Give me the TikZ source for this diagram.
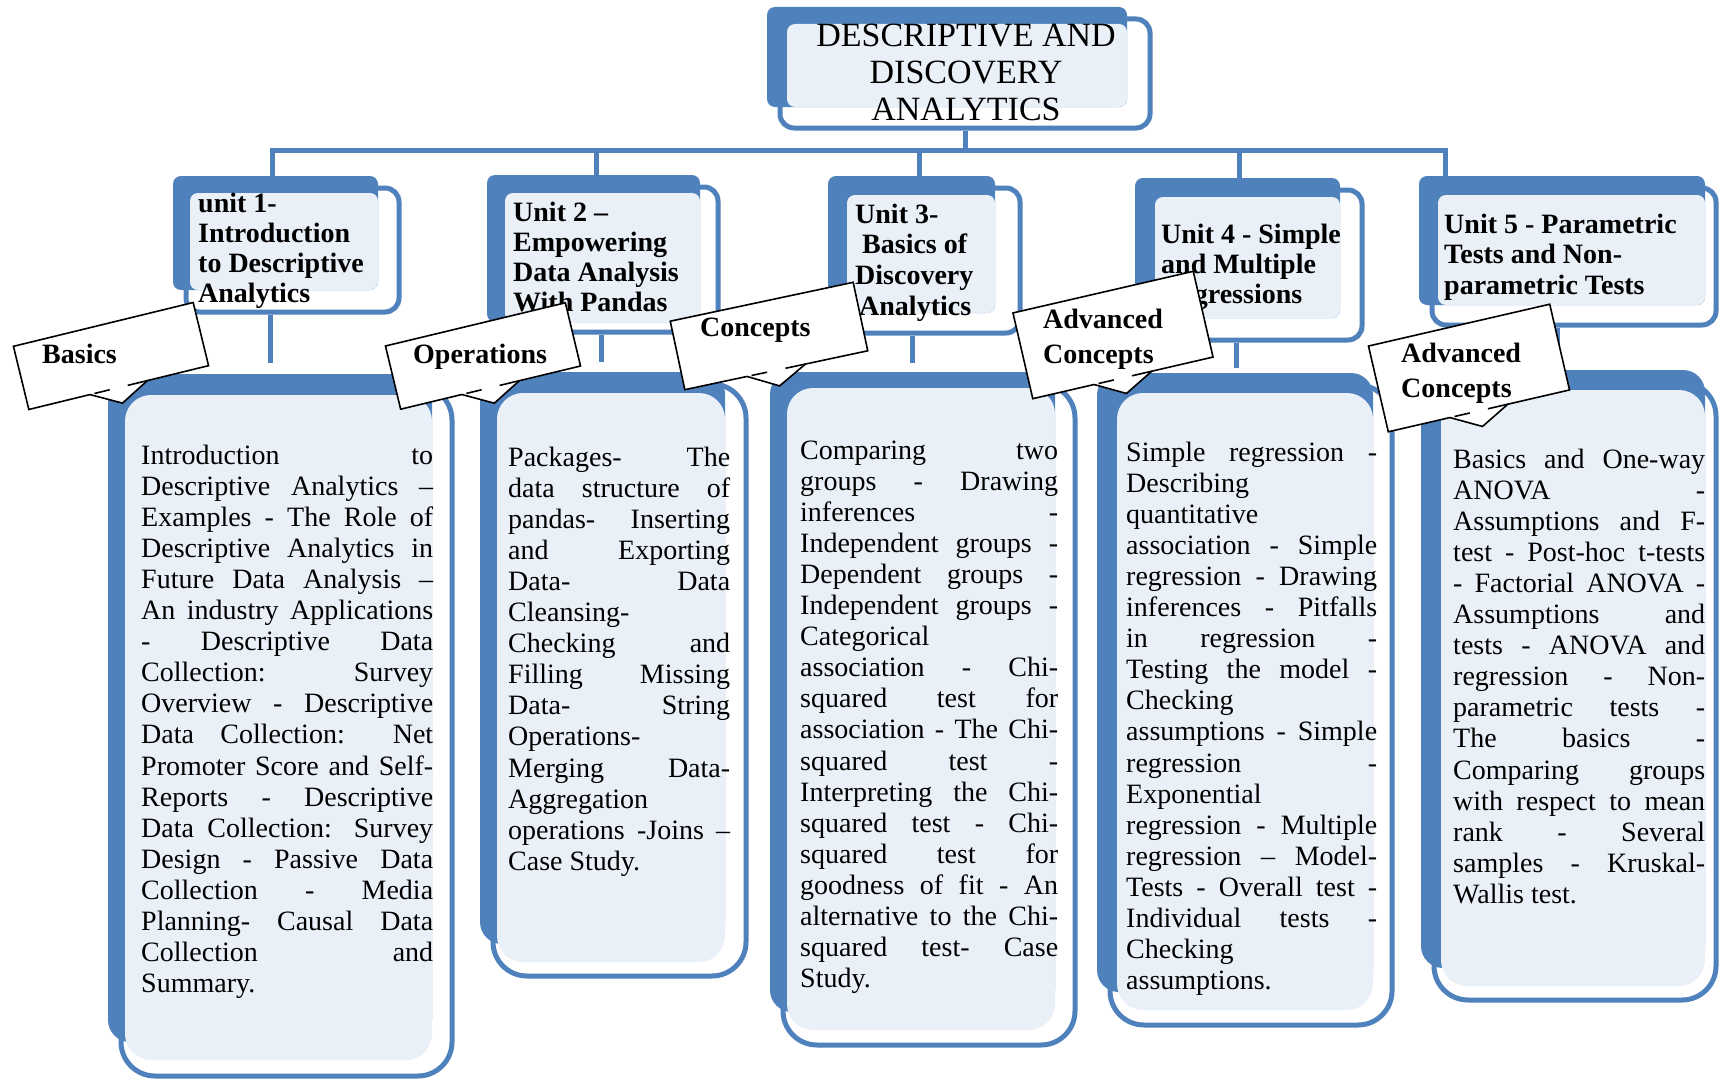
\documentclass[tikz,border=0pt]{standalone}
\usepackage{fontspec}
\setmainfont{Liberation Serif}
\usetikzlibrary{fit}
\definecolor{ob}{HTML}{4F81BD}
\definecolor{lb}{HTML}{EAF0F8}
\newcommand\J[1]{\makebox[\linewidth][s]{#1}}
\newcommand\cbody[2]{\parbox[t]{#1}{\fontsize{28}{31.1}\selectfont #2}}
\newcommand\hbody[3]{\parbox[t]{#1}{\bfseries\fontsize{28}{#2}\selectfont #3}}
\newcommand\tribox[9]{%
  \fill[ob, rounded corners=\rb] (#2,#3) rectangle (#6,#7-\bd);
  \node[draw=ob, line width=5pt, rounded corners=\ro, inner sep=0pt, fit={(#2+13,#3+12) (#8,#9)}] (#1) {};
  \fill[lb, rounded corners=\ri] (#4,#5) rectangle (#6,#7);
}
\newcommand\mycallout[5]{%
  \begin{scope}[shift={(#1,#2)},rotate=#3]
    \filldraw[fill=white,draw=black,line width=1.6pt] (-#4/2,-#5/2) -- (#4/2,-#5/2) -- (#4/2,#5/2) -- ({0.16*#4},#5/2) -- (0,#5/2+16) -- ({-0.16*#4},#5/2) -- (-#4/2,#5/2) -- cycle;
    \draw[line width=1.6pt] ({-0.135*#4},#5/2) -- ({-0.05*#4},#5/2) ({0.05*#4},#5/2) -- ({0.16*#4},#5/2);
  \end{scope}}
\begin{document}
\begin{tikzpicture}[x=1pt,y=-1pt,
  conn/.style={draw=ob,line width=5pt},
  txt/.style={anchor=base west,inner sep=0pt}]
\path[use as bounding box, fill=white] (0,0) rectangle (1719,1081);

% title box
\def\rb{8pt}\def\ro{14pt}\def\ri{8pt}\def\bd{0}
\tribox{tbox}{767}{7}{787}{24}{1127}{107}{1150}{128}
% unit boxes
\tribox{u1}{173}{176}{190}{193}{378}{290}{399}{312}
\tribox{u2}{487}{175}{505}{193}{700}{322}{718}{332}
\tribox{u3}{828}{176}{847}{195}{995}{313}{1020}{333}
\tribox{u4}{1135}{178}{1155}{197}{1340}{318}{1362}{340}
\tribox{u5}{1419}{176}{1438}{195}{1705}{305}{1716}{325}
% content boxes
\def\rb{22pt}\def\ro{34pt}\def\ri{26pt}\def\bd{18}
\tribox{c1}{108}{374}{125}{395}{432}{1060}{452}{1076}
\tribox{c2}{480}{372}{497}{393}{725}{962}{746}{976}
\tribox{c3}{770}{372}{787}{388}{1055}{1030}{1075}{1045}
\tribox{c4}{1097}{373}{1117}{393}{1373}{1010}{1392}{1025}
\tribox{c5}{1421}{370}{1441}{390}{1705}{986}{1716}{1000}

% connectors
\coordinate (bl) at (272,150);
\coordinate (br) at (1445,150);
\coordinate (d2) at (596,150);
\coordinate (d3) at (919,150);
\coordinate (d4) at (1239,150);
\draw[conn] (tbox.south) -- (tbox.south |- bl);
\draw[conn, line join=miter] (bl |- u1.north) -- (bl) -- (br) -- (br |- u5.north);
\draw[conn] (d2) -- (d2 |- u2.north);
\draw[conn] (d3) -- (d3 |- u3.north);
\draw[conn] (d4) -- (d4 |- u4.north);
\coordinate (f1) at (270,363);
\coordinate (f2) at (601,362);
\coordinate (f3) at (912,363);
\coordinate (f4) at (1236,368);
\coordinate (f5) at (1557,365);
\draw[conn] (f1 |- u1.south) -- (f1);
\draw[conn] (f2 |- u2.south) -- (f2);
\draw[conn] (f3 |- u3.south) -- (f3);
\draw[conn] (f4 |- u4.south) -- (f4);
\draw[conn] (f5 |- u5.south) -- (f5);

% title text
\node[anchor=base,inner sep=0pt] (tt) at (966,46.7) {\parbox[t]{400pt}{\centering\fontsize{34}{36.7}\selectfont DESCRIPTIVE AND\\DISCOVERY\\ANALYTICS}};

% unit texts
\node[txt] (ut1) at (198,212) {\hbody{200pt}{30.3}{unit 1-\\Introduction\\to Descriptive\\Analytics}};
\node[txt] (ut2) at (513,221) {\hbody{200pt}{30}{Unit 2 –\\Empowering\\Data Analysis\\With Pandas}};
\node[txt] (ut3) at (855,223) {\hbody{200pt}{30.7}{Unit 3-\\\hspace*{7pt}Basics of\\Discovery\\\hspace*{4pt}Analytics}};
\node[txt] (ut4) at (1161,243) {\hbody{220pt}{30}{Unit 4 - Simple\\and Multiple\\Regressions}};
\node[txt] (ut5) at (1444,233) {\hbody{260pt}{30.5}{Unit 5 - Parametric\\Tests and Non-\\parametric Tests}};

% content texts
\node[txt] (ct1) at (141,464) {\cbody{292pt}{%
\J{Introduction to}\\
\J{Descriptive Analytics –}\\
\J{Examples - The Role of}\\
\J{Descriptive Analytics in}\\
\J{Future Data Analysis –}\\
\J{An industry Applications}\\
\J{- Descriptive Data}\\
\J{Collection: Survey}\\
\J{Overview - Descriptive}\\
\J{Data Collection: Net}\\
\J{Promoter Score and Self-}\\
\J{Reports - Descriptive}\\
\J{Data Collection: Survey}\\
\J{Design - Passive Data}\\
\J{Collection - Media}\\
\J{Planning- Causal Data}\\
\J{Collection and}\\
Summary.}};

\node[txt] (ct2) at (508,466) {\cbody{222pt}{%
\J{Packages- The}\\
\J{data structure of}\\
\J{pandas- Inserting}\\
\J{and Exporting}\\
\J{Data- Data}\\
Cleansing-\\
\J{Checking and}\\
\J{Filling Missing}\\
\J{Data- String}\\
Operations-\\
\J{Merging Data-}\\
Aggregation\\
\J{operations -Joins –}\\
Case Study.}};

\node[txt] (ct3) at (800,459) {\cbody{258pt}{%
\J{Comparing two}\\
\J{groups - Drawing}\\
\J{inferences -}\\
\J{Independent groups -}\\
\J{Dependent groups -}\\
\J{Independent groups -}\\
Categorical\\
\J{association - Chi-}\\
\J{squared test for}\\
\J{association - The Chi-}\\
\J{squared test -}\\
\J{Interpreting the Chi-}\\
\J{squared test - Chi-}\\
\J{squared test for}\\
\J{goodness of fit - An}\\
\J{alternative to the Chi-}\\
\J{squared test- Case}\\
Study.}};

\node[txt] (ct4) at (1126,461) {\cbody{251pt}{%
\J{Simple regression -}\\
Describing\\
quantitative\\
\J{association - Simple}\\
\J{regression - Drawing}\\
\J{inferences - Pitfalls}\\
\J{in regression -}\\
\J{Testing the model -}\\
Checking\\
\J{assumptions - Simple}\\
\J{regression -}\\
Exponential\\
\J{regression - Multiple}\\
\J{regression – Model-}\\
\J{Tests - Overall test -}\\
\J{Individual tests -}\\
Checking\\
assumptions.}};

\node[txt] (ct5) at (1453,468) {\cbody{252pt}{%
\J{Basics and One-way}\\
\J{ANOVA -}\\
\J{Assumptions and F-}\\
\J{test - Post-hoc t-tests}\\
\J{- Factorial ANOVA -}\\
\J{Assumptions and}\\
\J{tests - ANOVA and}\\
\J{regression - Non-}\\
\J{parametric tests -}\\
\J{The basics -}\\
\J{Comparing groups}\\
\J{with respect to mean}\\
\J{rank - Several}\\
\J{samples - Kruskal-}\\
Wallis test.}};

% callouts
\mycallout{111}{356}{13.7}{185}{65}
\mycallout{483}{356}{13.5}{185}{65}
\mycallout{769}{336}{12}{187}{70}
\mycallout{1113}{335}{13}{185}{88}
\mycallout{1469}{368}{13}{186}{88}
\node[txt] (k1) at (42,363) {\hbody{150pt}{35}{Basics}};
\node[txt] (k2) at (413,363) {\hbody{150pt}{35}{Operations}};
\node[txt] (k3) at (700,336) {\hbody{150pt}{35}{Concepts}};
\node[txt] (k4) at (1043,328) {\hbody{150pt}{35}{Advanced\\Concepts}};
\node[txt] (k5) at (1401,362) {\hbody{150pt}{35}{Advanced\\Concepts}};
\end{tikzpicture}
\end{document}
